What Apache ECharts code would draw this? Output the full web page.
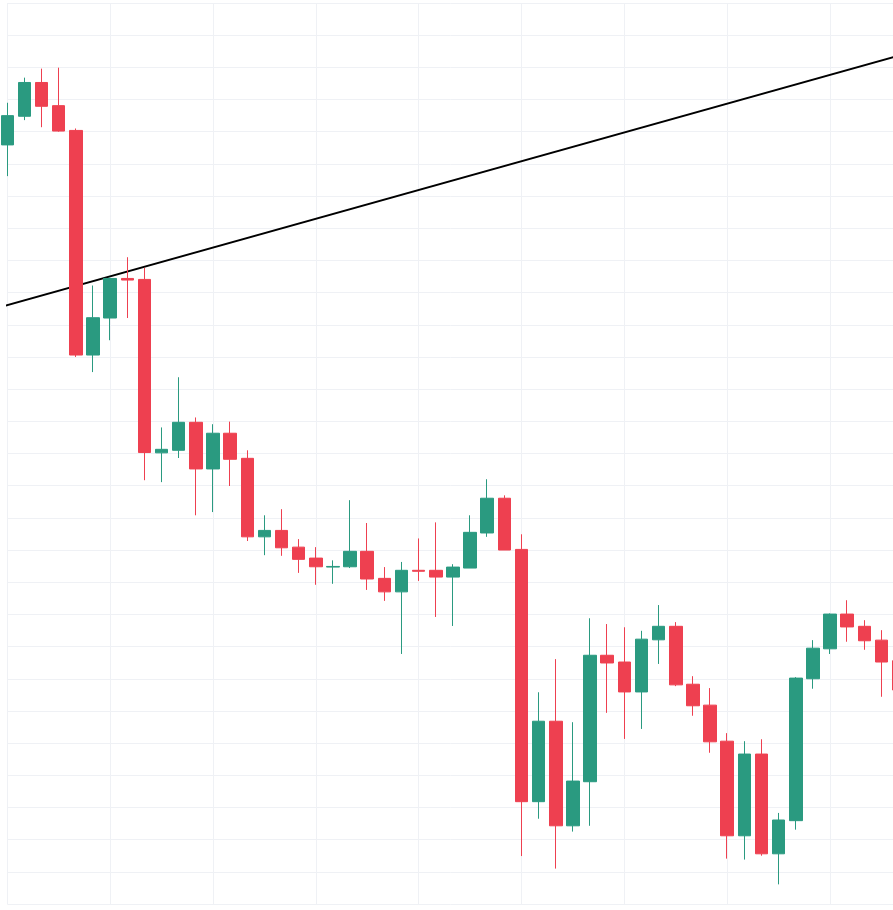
<!DOCTYPE html>
<html>
<head>
<meta charset="utf-8">
<title>Candles</title>
<script src="https://cdn.jsdelivr.net/npm/echarts@6/dist/echarts.min.js"></script>
<style>
    html, body { margin: 0; padding: 0; background: #ffffff; }
    #chart { width: 893px; height: 910px; }
</style>
</head>
<body>
<div id="chart"></div>
<script>
// bar labels (hidden on the chart)
var categories = ['1', '2', '3', '4', '5', '6', '7', '8', '9', '10',
    '11', '12', '13', '14', '15', '16', '17', '18', '19', '20',
    '21', '22', '23', '24', '25', '26', '27', '28', '29', '30',
    '31', '32', '33', '34', '35', '36', '37', '38', '39', '40',
    '41', '42', '43', '44', '45', '46', '47', '48', '49', '50',
    '51', '52', '53'];

var opens  = [335.9, 344.8, 355.3, 348.1, 340.4, 270.6, 282.1, 294.4, 294.1, 240.2,
              241.0, 249.7, 235.2, 246.3, 238.5, 214.1, 216.1, 210.9, 207.5, 204.7,
              204.8, 209.6, 201.2, 197.0, 203.7, 203.7, 201.6, 204.4, 215.3, 226.1,
              210.2, 131.8, 156.8, 124.3, 138.0, 177.3, 175.2, 165.9, 182.1, 186.3,
              168.3, 161.8, 150.6, 121.2, 146.6, 115.6, 125.9, 170.0, 179.3, 190.1,
              186.3, 182.0, 175.6];
var closes = [345.0, 355.3, 347.9, 340.2, 270.6, 282.2, 294.4, 293.9, 240.3, 241.3,
              249.7, 235.2, 246.3, 238.2, 214.1, 216.1, 210.7, 207.1, 204.8, 204.9,
              209.6, 201.0, 197.0, 203.7, 203.4, 201.6, 204.7, 215.5, 226.1, 210.0,
              131.8, 156.8, 124.3, 138.2, 177.3, 174.9, 165.9, 182.3, 186.3, 168.1,
              161.6, 150.4, 121.2, 146.6, 115.6, 126.1, 170.2, 179.5, 190.1, 186.1,
              181.8, 175.2, 166.5];
var lows   = [326.2, 343.6, 341.4, 340.0, 270.0, 265.3, 275.2, 282.1, 231.7, 231.1,
              238.6, 220.8, 221.8, 229.9, 212.8, 208.4, 208.2, 202.9, 199.2, 199.5,
              204.4, 197.6, 194.2, 177.7, 200.4, 189.2, 186.4, 204.4, 214.1, 210.0,
              114.9, 126.5, 111.0, 122.5, 124.3, 159.4, 151.3, 154.4, 174.6, 167.7,
              158.5, 147.0, 114.1, 113.8, 115.0, 106.1, 123.1, 166.9, 177.7, 181.5,
              179.0, 164.4, 161.8];
var highs  = [349.0, 356.8, 359.6, 359.9, 341.0, 292.2, 294.7, 301.0, 297.7, 248.1,
              263.7, 251.2, 249.1, 249.9, 241.0, 220.8, 222.7, 213.4, 210.9, 206.8,
              225.5, 218.4, 204.7, 206.3, 213.6, 218.6, 205.6, 220.8, 232.0, 227.0,
              214.9, 165.8, 176.1, 156.5, 188.8, 187.0, 186.0, 184.9, 192.9, 187.6,
              170.8, 167.1, 153.1, 150.6, 151.2, 128.3, 170.5, 182.0, 190.3, 194.4,
              188.2, 185.1, 177.3];

// trend line, [bar index, price]
var trendLine = [[-1, 284.6], [53, 365.1]];

var UP = '#2a9a80';
var DOWN = '#ee4050';

var candles = [];
for (var i = 0; i < categories.length; i++) {
    candles.push([opens[i], closes[i], lows[i], highs[i]]);
}

var chart = echarts.init(document.getElementById('chart'));
chart.setOption({
    backgroundColor: '#ffffff',
    animation: false,
    grid: {
        left: 7.3,
        right: -5.6,
        top: 3,
        bottom: 6,
        outerBoundsMode: 'none'
    },
    xAxis: [{
        type: 'category',
        data: categories,
        boundaryGap: false,
        axisLine: { show: false },
        axisTick: { show: false },
        axisLabel: { show: false },
        splitLine: {
            show: true,
            interval: 5,
            lineStyle: { color: '#eff1f5', width: 1 }
        }
    }, {
        type: 'value',
        min: 0,
        max: 52,
        show: false
    }],
    yAxis: {
        type: 'value',
        min: 100,
        max: 380,
        interval: 10,
        axisLine: { show: false },
        axisTick: { show: false },
        axisLabel: { show: false },
        splitLine: {
            show: true,
            lineStyle: { color: '#eff1f5', width: 1 }
        }
    },
    series: [{
        type: 'line',
        xAxisIndex: 1,
        data: trendLine,
        symbol: 'none',
        clip: false,
        z: 1,
        lineStyle: { color: '#000000', width: 2 }
    }, {
        type: 'candlestick',
        data: candles,
        barWidth: 13,
        clip: false,
        z: 2,
        itemStyle: {
            color: UP,
            color0: DOWN,
            borderColor: UP,
            borderColor0: DOWN,
            borderWidth: 1
        }
    }]
});
</script>
</body>
</html>
